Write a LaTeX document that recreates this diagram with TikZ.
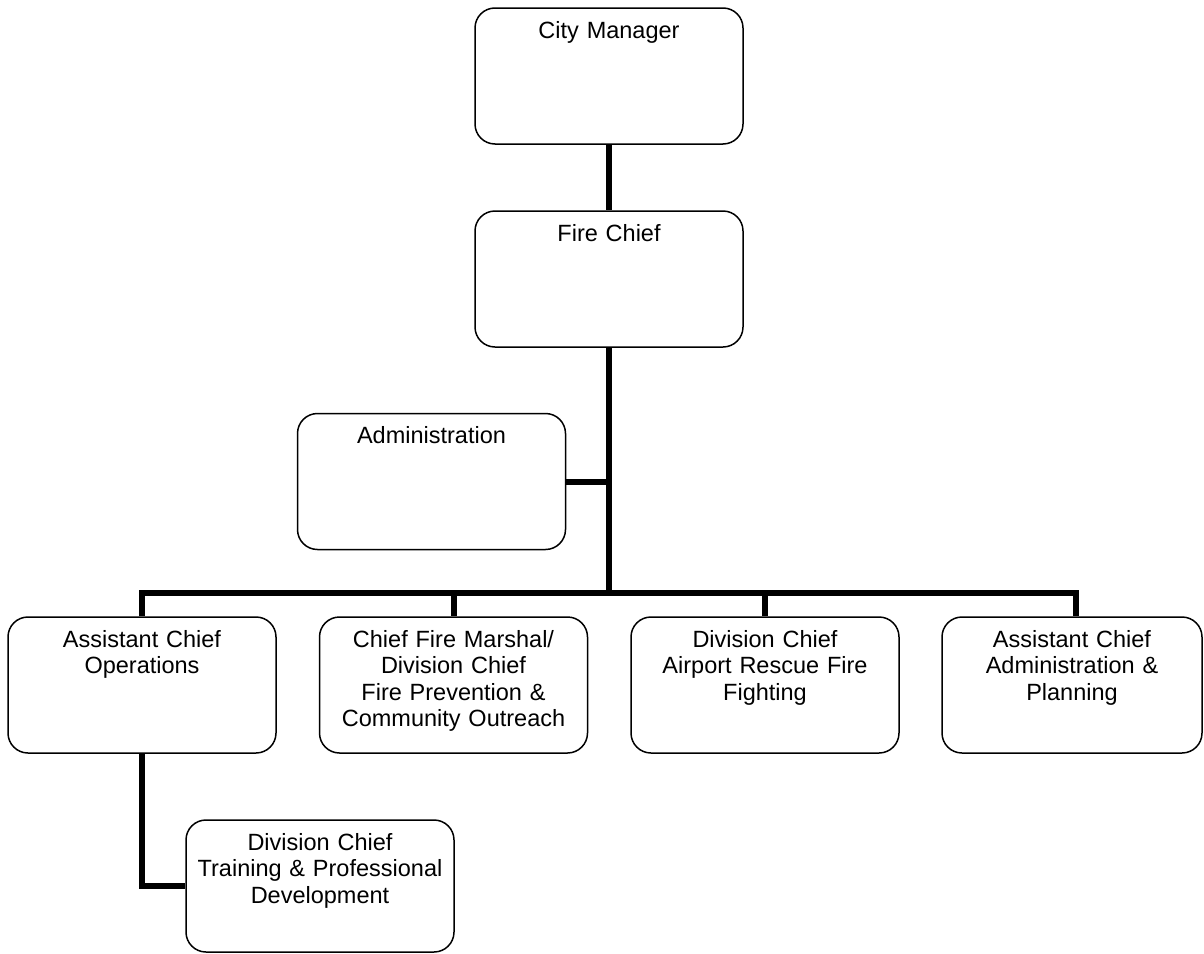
\documentclass[tikz,border=0pt]{standalone}
\usepackage{fontspec}
\setmainfont{Liberation Sans}
\begin{document}
\begin{tikzpicture}[x=1pt,y=-1pt,
  box/.style={draw=black, line width=1.5pt, rounded corners=20pt, inner sep=0pt, minimum width=268pt, minimum height=136pt},
  lbl/.style={anchor=base, inner sep=0pt, text width=266pt, align=center, font=\fontsize{23.5}{26.5}\selectfont},
  conn/.style={draw=black, line width=6pt, line join=miter}]
\useasboundingbox (0,0) rectangle (1204,953);
% boxes
\node[box] (cm) at (609,76) {};
\node[box] (fc) at (609,279) {};
\node[box] (adm) at (431.5,481.5) {};
\node[box] (ops) at (142,685) {};
\node[box] (cfm) at (453.5,685) {};
\node[box] (air) at (765,685) {};
\node[box, minimum width=260pt] (asst) at (1072,685) {};
\node[box, minimum height=132pt] (tr) at (320,886) {};
% labels
\node[lbl] (cmT) at ([yshift=-31pt]cm.north) {City Manager};
\node[lbl] (fcT) at ([yshift=-31pt]fc.north) {Fire Chief};
\node[lbl] (admT) at ([yshift=-31pt]adm.north) {Administration};
\node[lbl] (opsT) at ([yshift=-31pt]ops.north) {Assistant Chief\\Operations};
\node[lbl] (cfmT) at ([yshift=-31pt]cfm.north) {Chief Fire Marshal/\\Division Chief\\Fire Prevention \&\\Community Outreach};
\node[lbl] (airT) at ([yshift=-31pt]air.north) {Division Chief\\Airport Rescue Fire\\Fighting};
\node[lbl] (asstT) at ([yshift=-31pt]asst.north) {Assistant Chief\\Administration \&\\Planning};
\node[lbl] (trT) at ([yshift=-31pt]tr.north) {Division Chief\\Training \& Professional\\Development};
% connectors
\coordinate (bus) at (609,593);
\coordinate (busR) at (1076,593);
\draw[conn] (cm.south) -- (fc.north);
\draw[conn] (fc.south) -- (bus);
\draw[conn] (adm.east) -- (adm.east -| bus);
\draw[conn] (ops.north) -- (ops.north |- bus) -- (busR) -- (busR |- asst.north);
\draw[conn] (cfm.north |- bus) -- (cfm.north);
\draw[conn] (air.north |- bus) -- (air.north);
\draw[conn] (ops.south) -- (ops.south |- tr.west) -- (tr.west);
\end{tikzpicture}
\end{document}
